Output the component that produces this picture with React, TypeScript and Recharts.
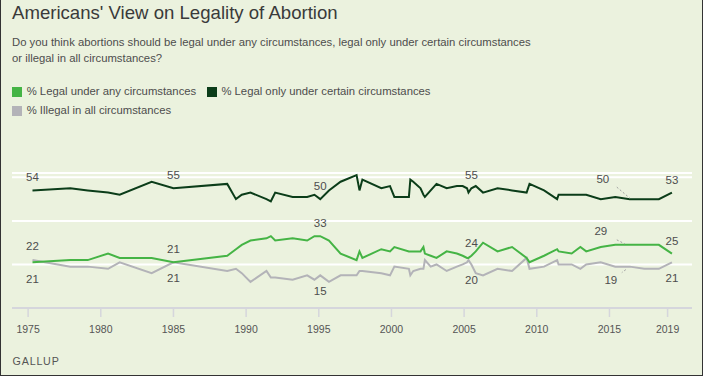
import { CartesianGrid, Line, LineChart, XAxis, YAxis } from "recharts";

// survey dates (decimal years) and shares in percent
const years = [
  1975.3, 1977.9, 1979.1, 1980.5, 1981.3, 1983.5, 1985.0, 1988.7, 1989.3, 1989.7,
  1990.3, 1991.4, 1991.7, 1992.0, 1993.2, 1994.2, 1994.7, 1995.1, 1995.7, 1996.5,
  1997.6, 1997.8, 1998.0, 1999.3, 1999.9, 2000.2, 2001.2, 2001.3, 2001.5, 2002.0,
  2002.2, 2002.3, 2002.7, 2003.1, 2003.8, 2004.5, 2004.9, 2005.2, 2005.3, 2005.5,
  2005.8, 2006.3, 2007.3, 2008.3, 2009.3, 2009.5, 2010.5, 2011.4, 2011.5, 2012.4,
  2013.0, 2013.4, 2014.4, 2015.4, 2016.4, 2017.4, 2018.4, 2019.3,
];
const legalCertain = [
  54, 55, 54, 53, 52, 58, 55, 57, 50, 52,
  53, 50, 49, 53, 51, 51, 52, 50, 54, 58,
  61, 54, 59, 55, 56, 51, 51, 59, 58, 55,
  52, 51, 54, 57, 55, 56, 56, 55, 53, 55,
  56, 53, 55, 54, 53, 57, 54, 50, 52, 52,
  52, 52, 50, 51, 50, 50, 50, 53,
];
const legalAny = [
  21, 22, 22, 25, 23, 23, 21, 24, 27, 29,
  31, 32, 33, 31, 32, 31, 33, 33, 31, 25,
  22, 26, 23, 27, 26, 28, 26, 26, 26, 26,
  28, 25, 24, 23, 26, 25, 24, 23, 23, 24,
  26, 30, 26, 28, 23, 21, 24, 27, 26, 25,
  28, 26, 28, 29, 29, 29, 29, 25,
];
const illegalAll = [
  22, 19, 19, 18, 21, 16, 21, 17, 18, 16,
  12, 17, 14, 14, 13, 15, 13, 15, 12, 15,
  15, 17, 17, 16, 15, 19, 18, 15, 17, 18,
  18, 22, 19, 20, 17, 19, 20, 21, 22, 20,
  16, 15, 18, 17, 23, 18, 19, 22, 20, 20,
  18, 20, 21, 19, 19, 18, 18, 21,
];
const xTicks = [1975, 1980, 1985, 1990, 1995, 2000, 2005, 2010, 2015, 2019];
const yTicks = [0, 20, 40, 60];

const labeledYears = [1975.3, 1985.0, 1995.1, 2005.5, 2019.3];
const calloutYear = 2016.4;

const BG = "#ebf2de";
const FONT = "'Liberation Sans', Arial, sans-serif";
const C_ANY = "#45b445";
const C_CERTAIN = "#0b3d19";
const C_ILLEGAL = "#b3b3b8";
const TEXT = "#4d4d4d";

type Key = "any" | "certain" | "illegal";

const data = years.map((year, i) => ({
  year,
  any: legalAny[i],
  certain: legalCertain[i],
  illegal: illegalAll[i],
}));

// where each label sits relative to its point: [dx, dy of text centre], optional leader line
function labelPlacement(key: Key, year: number): { dx: number; dy: number; lead?: number[] } | null {
  if (year === calloutYear) {
    if (key === "certain") return { dx: -27, dy: -20, lead: [-13, -12, 0, -1] };
    if (key === "any") return { dx: -29, dy: -14, lead: [-13, -5, -5, -1] };
    return { dx: -19, dy: 13, lead: [-4, 3, -8, 6] };
  }
  if (!labeledYears.includes(year)) return null;
  if (key === "certain") return { dx: 0, dy: -13 };
  if (year === 1975.3) return key === "illegal" ? { dx: 0, dy: -14 } : { dx: 0, dy: 17 };
  if (key === "any") return { dx: 0, dy: -13 };
  return { dx: 0, dy: 16 };
}

const renderPointLabel = (key: Key) => (props: any) => {
  const { cx, cy, index, payload } = props;
  const place = labelPlacement(key, years[index]);
  if (!place || cx == null || cy == null) return <g key={`${key}-${index}`} />;
  return (
    <g key={`${key}-${index}`}>
      {place.lead && (
        <line
          x1={cx + place.lead[0]}
          y1={cy + place.lead[1]}
          x2={cx + place.lead[2]}
          y2={cy + place.lead[3]}
          stroke="#a0a0a0"
          strokeWidth={1}
          strokeDasharray="2 2"
        />
      )}
      <text
        x={cx + place.dx}
        y={cy + place.dy + 4}
        textAnchor="middle"
        fontSize={11.5}
        fontFamily={FONT}
        fill={TEXT}
      >
        {payload[key]}
      </text>
    </g>
  );
};

function LegendItem({ color, label, left, top }: { color: string; label: string; left: number; top: number }) {
  return (
    <>
      <div style={{ position: "absolute", left, top: top + 3, width: 10, height: 10, background: color }} />
      <div style={{ position: "absolute", left: left + 14.7, top, fontSize: 11.3, lineHeight: "14.5px", color: TEXT, whiteSpace: "nowrap" }}>
        {label}
      </div>
    </>
  );
}

export default function App() {
  return (
    <div
      style={{
        position: "absolute",
        left: 0,
        top: 0,
        width: 703,
        height: 376,
        background: BG,
        fontFamily: FONT,
        overflow: "hidden",
      }}
    >
      <div style={{ position: "absolute", left: 12, top: 4.3, fontSize: 18.6, lineHeight: "18.6px", color: "#3a3a3a", whiteSpace: "nowrap" }}>
        Americans' View on Legality of Abortion
      </div>
      <div style={{ position: "absolute", left: 12, top: 33.8, fontSize: 11.3, lineHeight: "16px", color: TEXT, whiteSpace: "nowrap" }}>
        Do you think abortions should be legal under any circumstances, legal only under certain circumstances
        <br />
        or illegal in all circumstances?
      </div>
      <LegendItem color={C_ANY} label="% Legal under any circumstances" left={12} top={84} />
      <LegendItem color={C_CERTAIN} label="% Legal only under certain circumstances" left={206.7} top={84} />
      <LegendItem color={C_ILLEGAL} label="% Illegal in all circumstances" left={12} top={102.5} />

      <div style={{ position: "absolute", left: 0, top: 0 }}>
        <LineChart width={703} height={376} data={data} margin={{ top: 173, right: 11, bottom: 38, left: 12 }}>
          <CartesianGrid horizontal vertical={false} stroke="#ffffff" strokeWidth={2} />
          <XAxis
            dataKey="year"
            type="number"
            domain={[1973.89, 2020.68]}
            ticks={xTicks}
            interval={0}
            axisLine={{ stroke: "#d5d6dc", strokeWidth: 2 }}
            tickLine={{ stroke: "#d5d6dc", strokeWidth: 1.5 }}
            tickSize={9}
            tickMargin={9}
            tick={{ fill: "#555555", fontSize: 10.5, fontFamily: FONT }}
          />
          <YAxis hide domain={[0, 62]} ticks={yTicks} />
          <Line
            type="linear"
            dataKey="illegal"
            stroke={C_ILLEGAL}
            strokeWidth={2}
            dot={renderPointLabel("illegal")}
            activeDot={false}
            isAnimationActive={false}
          />
          <Line
            type="linear"
            dataKey="any"
            stroke={C_ANY}
            strokeWidth={2}
            dot={renderPointLabel("any")}
            activeDot={false}
            isAnimationActive={false}
          />
          <Line
            type="linear"
            dataKey="certain"
            stroke={C_CERTAIN}
            strokeWidth={2}
            dot={renderPointLabel("certain")}
            activeDot={false}
            isAnimationActive={false}
          />
        </LineChart>
      </div>

      <div style={{ position: "absolute", left: 12.6, top: 354, fontSize: 10.7, lineHeight: "14px", letterSpacing: 0.8, color: "#555555" }}>
        GALLUP
      </div>
      <div style={{ position: "absolute", inset: 0, borderLeft: "1px solid #333", borderRight: "1px solid #333", borderBottom: "1px solid #333", pointerEvents: "none" }} />
    </div>
  );
}
